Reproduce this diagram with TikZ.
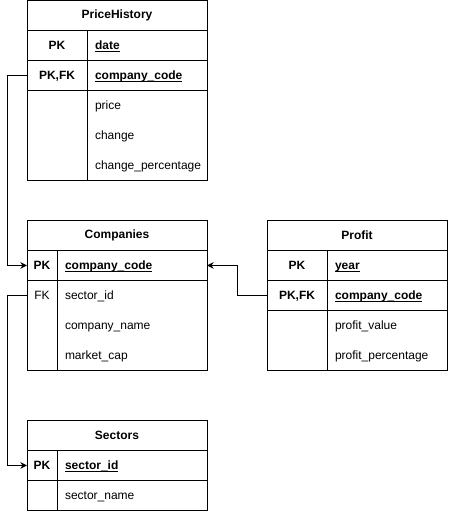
\documentclass[tikz,border=0pt]{standalone}
\usepackage{fontspec}
\setmainfont{Liberation Sans}[Scale=0.9]
\usetikzlibrary{positioning,arrows.meta}
\tikzstyle{tbltitle}=[rectangle,draw,minimum width=135pt,minimum height=22.5pt,
inner sep=0pt,outer sep=0pt,font=\bfseries]
\tikzstyle{cell}=[rectangle,minimum height=22.5pt,inner ysep=0pt,outer sep=0pt,
text height=7.5pt,text depth=1pt]
\tikzstyle{wkeyt}=[cell,minimum width=45pt,inner xsep=0pt]
\tikzstyle{nkeyt}=[cell,minimum width=22.5pt,inner xsep=0pt]
\tikzstyle{wfieldt}=[cell,inner xsep=6pt,text width=78pt,align=left]
\tikzstyle{nfieldt}=[cell,inner xsep=6pt,text width=100.5pt,align=left]
\tikzstyle{wkey}=[wkeyt,draw]
\tikzstyle{nkey}=[nkeyt,draw]
\tikzstyle{wfield}=[wfieldt,draw]
\tikzstyle{nfield}=[nfieldt,draw]
\newcommand{\keyul}[1]{\bfseries\setbox0\hbox{#1}\rlap{\rule[-1.4pt]{\wd0}{0.6pt}}\box0}

\begin{document}
\begin{tikzpicture}[line width=0.75pt, >={Stealth[length=5pt,width=5pt]}]
            \useasboundingbox (0,0) rectangle (336.75pt,-383.25pt);

            % PriceHistory PART

            \node[tbltitle] (ph0) at (87.75pt,-11.6pt) {PriceHistory};
            \node[wkey,below=0pt of ph0.south west,anchor=north west,font=\bfseries] (phk1) {PK};
            \node[wfield,right=0pt of phk1] (phf1) {\keyul{date}};
            \node[wkey,below=0pt of phk1,font=\bfseries] (phk2) {PK,FK};
            \node[wfield,right=0pt of phk2] (phf2) {\keyul{company\_code}};
            \node[wkeyt,below=0pt of phk2] (phk3) {};
            \node[wfieldt,right=0pt of phk3] (phf3) {price};
            \node[wkeyt,below=0pt of phk3] (phk4) {};
            \node[wfieldt,right=0pt of phk4] (phf4) {change};
            \node[wkeyt,below=0pt of phk4] (phk5) {};
            \node[wfieldt,right=0pt of phk5] (phf5) {change\_percentage};

            \draw (phk3.north west) rectangle (phf5.south east);
            \draw (phk3.north east) -- (phk5.south east);

            % Companies PART

            \node[tbltitle,below=30pt of phk5.south west,anchor=north west] (co0) {Companies};
            \node[nkey,below=0pt of co0.south west,anchor=north west,font=\bfseries] (cok1) {PK};
            \node[nfield,right=0pt of cok1] (cof1) {\keyul{company\_code}};
            \node[nkeyt,below=0pt of cok1] (cok2) {FK};
            \node[nfieldt,right=0pt of cok2] (cof2) {sector\_id};
            \node[nkeyt,below=0pt of cok2] (cok3) {};
            \node[nfieldt,right=0pt of cok3] (cof3) {company\_name};
            \node[nkeyt,below=0pt of cok3] (cok4) {};
            \node[nfieldt,right=0pt of cok4] (cof4) {market\_cap};

            \draw (cok2.north west) rectangle (cof4.south east);
            \draw (cok2.north east) -- (cok4.south east);

            % Profit PART

            \node[tbltitle,right=45pt of co0] (pr0) {Profit};
            \node[wkey,below=0pt of pr0.south west,anchor=north west,font=\bfseries] (prk1) {PK};
            \node[wfield,right=0pt of prk1] (prf1) {\keyul{year}};
            \node[wkey,below=0pt of prk1,font=\bfseries] (prk2) {PK,FK};
            \node[wfield,right=0pt of prk2] (prf2) {\keyul{company\_code}};
            \node[wkeyt,below=0pt of prk2] (prk3) {};
            \node[wfieldt,right=0pt of prk3] (prf3) {profit\_value};
            \node[wkeyt,below=0pt of prk3] (prk4) {};
            \node[wfieldt,right=0pt of prk4] (prf4) {profit\_percentage};

            \draw (prk3.north west) rectangle (prf4.south east);
            \draw (prk3.north east) -- (prk4.south east);

            % Sectors PART

            \node[tbltitle,below=37.5pt of cok4.south west,anchor=north west] (se0) {Sectors};
            \node[nkey,below=0pt of se0.south west,anchor=north west,font=\bfseries] (sek1) {PK};
            \node[nfield,right=0pt of sek1] (sef1) {\keyul{sector\_id}};
            \node[nkey,below=0pt of sek1] (sek2) {};
            \node[nfield,right=0pt of sek2] (sef2) {sector\_name};

            % Connections of Tables

            \draw[->] (phk2.west) -- ++(-15pt,0) |- (cok1.west);
            \draw[->] (cok2.west) -- ++(-15pt,0) |- (sek1.west);
            \draw[->] (prk2.west) -- ++(-22.5pt,0) |- (cof1.east);

        \end{tikzpicture}
\end{document}
